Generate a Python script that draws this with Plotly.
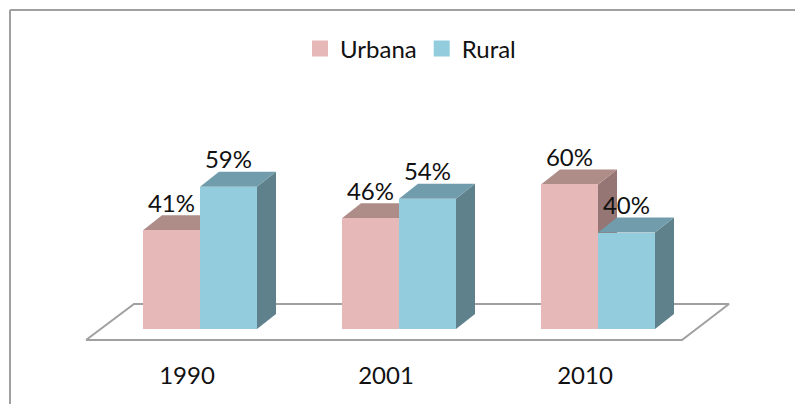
import plotly.graph_objects as go

categories = ["1990", "2001", "2010"]
urbana = [41, 46, 60]
rural = [59, 54, 40]
series_names = ["Urbana", "Rural"]

W, H = 795, 404
MB = 50
PLOT_H = H - MB
BASE_PX = 329
PX_PER_UNIT_Y = 2.41
PX_PER_GROUP = 199
GROUP0_PX = 200
BAR_W = 57 / PX_PER_GROUP
DX = 19 / PX_PER_GROUP
DY = 15 / PX_PER_UNIT_Y
LABEL_OFFSET = 24.5 / PX_PER_UNIT_Y
TICK_SHIFT = -13 / PX_PER_GROUP

FONT = "Lato"
FS = 24
TXT = "#111111"
FRONT = {"Urbana": "#E6B8B7", "Rural": "#93CDDD"}
TOP = {"Urbana": "#AE8C88", "Rural": "#709CAB"}
SIDE = {"Urbana": "#957674", "Rural": "#5F818B"}
GRAY = "#A0A0A0"


def xd(p):
    return (p - GROUP0_PX) / PX_PER_GROUP


def yd(p):
    return (BASE_PX - p) / PX_PER_UNIT_Y


xrange_ = [xd(0), xd(W)]
yrange_ = [yd(PLOT_H), yd(0)]

fig = go.Figure()

# floor
fx = [xd(86), xd(682), xd(729), xd(134), xd(86)]
fy = [yd(340), yd(340), yd(304), yd(304), yd(340)]
fig.add_trace(go.Scatter(x=fx, y=fy, mode="lines", fill="toself", fillcolor="white",
                         line=dict(color=GRAY, width=2), showlegend=False, hoverinfo="skip"))

positions = list(range(len(categories)))
for name, vals, off in ((series_names[0], urbana, -BAR_W / 2), (series_names[1], rural, BAR_W / 2)):
    for i, v in zip(positions, vals):
        l, r = i + off - BAR_W / 2, i + off + BAR_W / 2
        # right side face
        fig.add_trace(go.Scatter(x=[r, r + DX, r + DX, r, r], y=[0, DY, v + DY, v, 0], mode="lines",
                                 fill="toself", fillcolor=SIDE[name], line=dict(width=0),
                                 showlegend=False, hoverinfo="skip"))
        # top face
        fig.add_trace(go.Scatter(x=[l, l + DX, r + DX, r, l], y=[v, v + DY, v + DY, v, v], mode="lines",
                                 fill="toself", fillcolor=TOP[name], line=dict(width=0),
                                 showlegend=False, hoverinfo="skip"))

for name, vals, off in ((series_names[0], urbana, -BAR_W / 2), (series_names[1], rural, BAR_W / 2)):
    xs = [i + off for i in positions]
    fig.add_trace(go.Bar(x=xs, y=vals, width=BAR_W, name=name, marker=dict(color=FRONT[name], line=dict(width=0)),
                         xaxis="x2", yaxis="y2", showlegend=False))
    fig.add_trace(go.Scatter(x=xs, y=[v + LABEL_OFFSET for v in vals], text=[f"{v}%" for v in vals],
                             mode="text", textposition="middle center",
                             textfont=dict(family=FONT, size=FS, color=TXT), showlegend=False,
                             xaxis="x2", yaxis="y2", hoverinfo="skip"))

# legend keys (square swatches of the reference's size)
for name in series_names:
    fig.add_trace(go.Scatter(x=[None], y=[None], mode="markers", name=name,
                             marker=dict(symbol="square", size=16, color=FRONT[name]),
                             xaxis="x2", yaxis="y2"))

fig.update_layout(
    width=W, height=H, margin=dict(l=0, r=0, t=0, b=MB), paper_bgcolor="white", plot_bgcolor="white",
    barmode="overlay", bargap=0,
    font=dict(family=FONT, size=FS, color=TXT),
    xaxis=dict(range=xrange_, tickmode="array", tickvals=[p + TICK_SHIFT for p in positions], ticktext=categories,
               showgrid=False, zeroline=False, showline=False, ticks="", ticklabelstandoff=5,
               tickfont=dict(family=FONT, size=FS, color=TXT)),
    yaxis=dict(range=yrange_, visible=False, showgrid=False, zeroline=False),
    xaxis2=dict(range=xrange_, overlaying="x", matches="x", visible=False),
    yaxis2=dict(range=yrange_, overlaying="y", matches="y", visible=False),
    legend=dict(orientation="h", x=410.5 / W, xanchor="center", y=1 - 49 / PLOT_H, yanchor="middle",
                itemsizing="trace", font=dict(family=FONT, size=FS, color=TXT), bgcolor="rgba(0,0,0,0)"),
    shapes=[
        dict(type="line", xref="paper", yref="paper", x0=10 / W, x1=1, y0=1 - 10 / PLOT_H, y1=1 - 10 / PLOT_H,
             line=dict(color=GRAY, width=2)),
        dict(type="line", xref="paper", yref="paper", x0=10 / W, x1=10 / W, y0=1 - 10 / PLOT_H, y1=-MB / PLOT_H,
             line=dict(color=GRAY, width=2)),
    ],
)
fig.write_html("out.html", config={"displayModeBar": False},
               post_script="document.body.style.margin='0';")
